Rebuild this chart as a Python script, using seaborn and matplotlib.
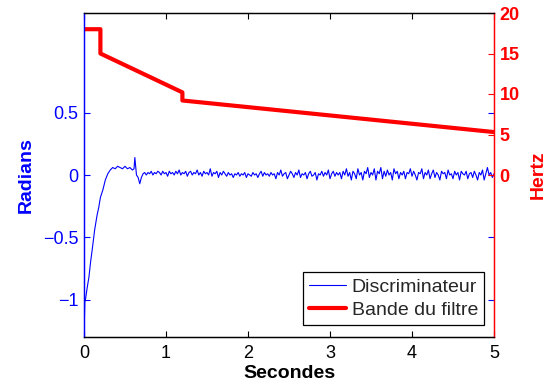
import numpy as np
import seaborn as sns
import matplotlib
matplotlib.use("Agg")
import matplotlib.pyplot as plt

# --------- #
# Data

# discriminator output, start-up transient (seconds, radians)
t_start = [0.0, 0.01, 0.02, 0.04, 0.06, 0.08, 0.10, 0.13, 0.16, 0.18, 0.20, 0.23,
           0.26, 0.29, 0.32, 0.35, 0.38, 0.41, 0.44, 0.47, 0.50, 0.53, 0.56, 0.59,
           0.61, 0.62, 0.64, 0.66, 0.68, 0.70]
rad_start = [-1.30, -1.02, -0.99, -0.90, -0.82, -0.70, -0.60, -0.44, -0.32, -0.26,
             -0.18, -0.12, -0.04, 0.01, 0.04, 0.06, 0.05, 0.07, 0.06, 0.05,
             0.07, 0.05, 0.06, 0.04, 0.05, 0.14, 0.00, -0.02, -0.07, -0.02]

# discriminator output after lock, 0.72 s .. 5 s (noise around zero)
rad_noise = [
    0.01, 0.02, 0.00, 0.02, 0.01, 0.03, 0.00, 0.02, 0.01, 0.03,
    0.02, 0.00, 0.03, 0.01, 0.02, -0.01, 0.03, 0.01, 0.02, 0.00,
    0.03, 0.01, 0.04, 0.00, 0.02, 0.01, 0.03, -0.01, 0.02, 0.03,
    0.00, 0.02, 0.01, 0.04, 0.00, 0.02, -0.01, 0.03, 0.01, 0.02,
    0.00, 0.05, -0.01, 0.02, 0.01, 0.03, -0.02, 0.02, 0.00, 0.03,
    0.01, -0.01, 0.02, 0.00, 0.01, -0.02, 0.01, 0.00, 0.02, -0.01,
    0.01, 0.00, 0.02, -0.02, 0.01, 0.00, -0.01, 0.02, 0.00, 0.01,
    -0.02, 0.01, 0.03, -0.01, 0.02, 0.00, 0.01, -0.01, 0.02, 0.00,
    0.01, -0.03, 0.02, 0.00, 0.04, -0.01, 0.01, 0.02, -0.03, 0.00,
    0.03, 0.01, -0.02, 0.02, 0.00, 0.04, -0.02, 0.01, 0.00, 0.02,
    -0.03, 0.01, 0.03, -0.01, 0.00, 0.02, -0.04, 0.01, 0.00, 0.03,
    -0.01, 0.02, 0.00, 0.04, -0.03, 0.01, 0.03, -0.01, 0.02, 0.00,
    0.02, -0.03, 0.03, 0.00, 0.05, -0.01, 0.02, -0.04, 0.03, 0.01,
    -0.03, 0.05, 0.00, 0.02, -0.04, 0.03, 0.01, 0.06, -0.02, 0.02,
    0.00, 0.05, -0.04, 0.03, 0.01, 0.06, -0.03, 0.03, -0.01, 0.04,
    0.00, 0.02, -0.04, 0.05, 0.01, 0.03, -0.03, 0.02, 0.00, 0.03,
    -0.03, 0.02, 0.01, 0.05, -0.01, 0.03, 0.00, -0.04, 0.02, 0.01,
    0.05, -0.03, 0.02, 0.00, 0.04, -0.03, 0.01, 0.04, -0.02, 0.02,
    0.00, -0.04, 0.03, 0.01, 0.02, -0.03, 0.04, 0.00, 0.01, -0.03,
    0.03, 0.00, 0.02, -0.04, 0.03, 0.01, 0.00, 0.03, -0.03, 0.01,
    0.02, -0.02, 0.03, 0.00, -0.04, 0.02, 0.00, 0.04, -0.04, 0.01,
    0.06, 0.00, 0.02, -0.02, 0.01,
]

# filter bandwidth (seconds, hertz)
t_band = [0.0, 0.2, 0.2, 1.2, 1.2, 5.0]
hz_band = [18.0, 18.0, 15.0, 10.2, 9.2, 5.3]

left_ticks = [-1, -0.5, 0, 0.5]
left_labels = ["\u22121", "\u22120.5", "0", "0.5"]
right_ticks = [0, 5, 10, 15, 20]
x_ticks = [0, 1, 2, 3, 4, 5]

# --------- #

t_all = t_start + list(np.linspace(0.72, 5.0, len(rad_noise)))
rad_all = rad_start + rad_noise

sns.set_style("ticks")
plt.rcParams["font.family"] = ["Liberation Sans", "DejaVu Sans"]

blue = "#0000ff"
red = "#ff0000"

fig = plt.figure(figsize=(5.47, 3.85), dpi=100)
ax = fig.add_axes([84 / 547, 48 / 385, 410 / 547, 324 / 385])
ax2 = ax.twinx()

sns.lineplot(x=t_all, y=rad_all, ax=ax, color=blue, lw=0.8,
             estimator=None, sort=False, label="Discriminateur")
sns.lineplot(x=t_band, y=hz_band, ax=ax2, color=red, lw=3,
             estimator=None, sort=False, label="Bande du filtre")

ax.set_xlim(0, 5)
ax.set_ylim(-1.3, 1.3)
ax2.set_ylim(-20, 20)

ax.set_xticks(x_ticks)
ax.set_yticks(left_ticks)
ax.set_yticklabels(left_labels)
ax2.set_yticks(right_ticks)

ax.tick_params(axis="x", direction="in", length=4, width=0.8, top=True,
               colors="black", labelsize=13, pad=6)
ax.tick_params(axis="y", direction="in", length=4, width=0.8, right=True,
               colors=blue, labelsize=13, pad=4)
ax2.tick_params(axis="y", direction="in", length=4, width=0.8,
                colors=red, labelsize=13, pad=4)
for lab in ax2.get_yticklabels():
    lab.set_fontweight("bold")

for a in (ax, ax2):
    for s in a.spines.values():
        s.set_linewidth(0.9)
    a.spines["top"].set_color("black")
    a.spines["bottom"].set_color("black")
    a.spines["left"].set_color(blue)
    a.spines["right"].set_color(red)

ax.set_xlabel("Secondes", fontsize=14, fontweight="bold", color="black")
ax.set_ylabel("Radians", fontsize=14, fontweight="bold", color=blue)
ax2.set_ylabel("Hertz", fontsize=14, fontweight="bold", color=red)
ax.xaxis.set_label_coords(0.5, -0.085)
ax.yaxis.set_label_coords(-0.12, 0.5)
ax2.yaxis.set_label_coords(1.088, 0.5)

# one legend for both axes
h1, l1 = ax.get_legend_handles_labels()
h2, l2 = ax2.get_legend_handles_labels()
ax.get_legend().remove()
ax2.legend(h1 + h2, l1 + l2, loc="lower right",
           bbox_to_anchor=(1 - 10 / 410, 12 / 324), borderaxespad=0,
           fontsize=14, fancybox=False, edgecolor="black", framealpha=1,
           handlelength=1.9, handletextpad=0.3, labelspacing=0.3,
           borderpad=0.3)
ax2.get_legend().get_frame().set_linewidth(0.9)

plt.savefig("out.png", dpi=100)
